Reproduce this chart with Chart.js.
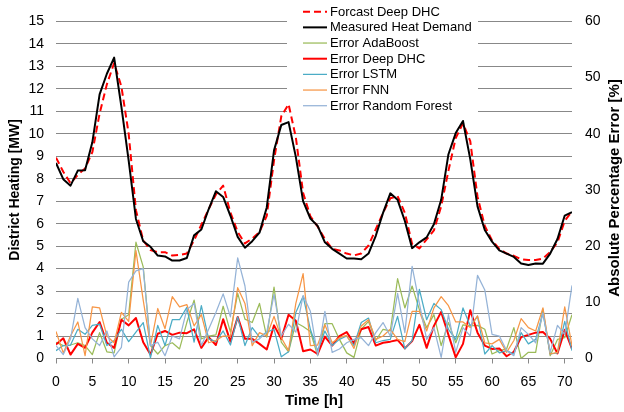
<!DOCTYPE html>
<html>
<head>
<meta charset="utf-8">
<script src="https://cdn.jsdelivr.net/npm/chart.js@4/dist/chart.umd.min.js"></script>
<style>
  html, body { margin: 0; padding: 0; background: #fff; }
  #wrap { width: 624px; height: 412px; }
</style>
</head>
<body>
<div id="wrap"><canvas id="heatChart"></canvas></div>
<script>
// ======================
// Dados
// ======================
const hours = [0,1,2,3,4,5,6,7,8,9,10,11,12,13,14,15,16,17,18,19,20,21,22,23,24,25,26,27,28,29,30,31,32,33,34,35,
  36,37,38,39,40,41,42,43,44,45,46,47,48,49,50,51,52,53,54,55,56,57,58,59,60,61,62,63,64,65,66,67,68,69,70,71];

// MW (eixo esquerdo)
const forecastDeepDhc = [8.94,8.31,7.80,8.17,8.46,9.18,10.90,12.20,13.15,12.10,10.00,6.60,5.25,4.83,4.73,4.73,4.58,4.61,4.67,5.26,
  5.95,6.64,7.30,7.69,6.50,5.63,5.12,5.34,5.63,6.35,8.82,10.78,11.32,9.84,7.37,6.33,5.87,5.32,4.88,4.81,
  4.67,4.59,4.67,5.03,5.75,6.48,7.13,7.23,6.48,5.10,4.90,5.30,5.70,6.77,8.36,9.81,10.46,9.67,7.20,5.90,
  5.25,4.88,4.67,4.57,4.42,4.38,4.38,4.45,4.74,5.17,6.12,6.55];
const measuredHeat = [8.70,7.98,7.69,8.36,8.38,9.62,11.75,12.67,13.39,11.20,8.80,6.21,5.22,4.97,4.58,4.54,4.36,4.36,4.47,5.48,
  5.74,6.64,7.44,7.19,6.35,5.41,4.93,5.22,5.60,6.72,9.26,10.39,10.52,8.97,7.00,6.23,5.90,5.17,4.88,4.67,
  4.45,4.45,4.42,4.67,5.46,6.48,7.35,7.06,6.12,4.91,5.17,5.39,5.97,7.06,9.09,10.03,10.57,8.87,6.77,5.72,
  5.20,4.81,4.67,4.52,4.23,4.16,4.23,4.22,4.67,5.32,6.36,6.51];

// % (eixo direito)
const errAdaBoost = [2.9,2.3,2.4,2.8,2.3,0.7,4.6,1.2,1.0,7.0,7.8,20.7,16.3,2.3,0.8,2.3,2.8,1.7,6.4,10.4,
  3.5,4.0,4.2,9.3,4.7,11.6,7.0,6.4,9.8,3.8,12.7,2.9,1.2,6.4,5.7,4.8,0.5,6.2,6.2,3.4,
  1.0,0.2,5.2,6.6,3.2,5.2,4.9,14.2,9.0,12.9,8.7,5.5,7.8,2.3,6.4,2.8,6.0,5.8,5.9,5.2,
  0.8,1.4,1.7,5.5,0.0,1.1,1.1,8.8,0.5,3.4,3.7,7.8];
const errDeepDhc = [2.5,3.6,0.7,2.6,1.9,4.6,6.5,2.8,1.9,6.9,5.9,7.2,2.9,0.7,4.4,4.9,4.2,4.6,4.5,5.2,
  1.9,3.8,2.4,7.0,3.0,7.4,3.5,3.5,2.6,1.6,5.9,3.5,7.8,6.7,1.3,1.6,0.8,3.9,2.3,4.0,
  4.7,2.7,5.2,5.6,2.3,2.8,3.0,3.3,1.8,3.1,6.0,1.9,5.8,8.3,4.2,0.2,2.6,8.6,4.6,2.3,
  1.7,1.8,0.4,1.2,3.8,4.2,4.6,4.7,3.5,0.9,5.1,1.7];
const errLstm = [1.4,2.3,2.4,5.2,4.3,5.9,6.1,2.3,3.2,5.2,3.0,4.7,6.4,0.1,5.9,2.3,6.9,6.9,9.1,2.9,
  9.4,3.5,3.0,4.9,2.4,7.4,2.3,5.5,3.8,4.7,5.2,0.3,1.2,8.2,11.1,5.2,1.4,4.9,2.3,3.4,
  4.0,2.3,6.4,7.2,2.8,3.2,3.4,7.5,1.7,3.2,12.3,6.9,9.8,8.7,5.2,3.4,9.0,5.8,7.5,0.8,
  2.3,1.0,1.4,0.8,4.6,2.6,3.4,8.1,0.8,1.0,6.6,1.4];
const errFnn = [4.8,1.0,4.0,6.5,0.5,9.2,9.0,4.0,2.8,8.2,6.6,19.2,10.4,2.3,8.9,5.3,11.0,9.2,9.6,5.8,
  7.8,2.8,3.2,4.0,4.0,12.6,9.8,2.3,4.6,4.0,7.5,3.7,1.4,9.8,15.1,2.3,2.4,6.0,2.8,3.7,
  4.1,1.8,5.8,6.9,3.4,4.0,5.2,3.4,3.0,8.4,8.4,4.9,9.0,11.0,9.4,6.5,6.5,5.5,7.6,2.8,
  2.6,3.4,1.1,3.2,7.1,5.5,4.9,9.0,0.8,1.1,9.2,2.3];
const errRandomForest = [2.3,0.7,3.5,10.7,5.5,3.5,2.3,4.9,0.3,2.0,13.6,15.6,16.0,2.3,2.9,0.5,4.0,3.5,8.7,9.8,
  2.3,5.2,8.2,11.5,7.4,17.9,12.9,2.9,3.5,4.7,11.4,4.0,6.1,4.7,11.2,8.4,0.5,8.4,1.1,1.7,
  2.8,3.4,3.7,2.3,4.6,6.4,4.0,11.6,4.6,16.4,9.8,3.4,5.5,0.2,7.8,1.1,5.5,4.0,14.8,12.2,
  4.3,4.0,1.4,0.5,5.5,4.3,2.8,8.1,1.1,5.9,4.3,13.0];

// limites dos eixos
const heatAxis = { min: 0, max: 15, step: 1 };
const errorAxis = { min: 0, max: 60, step: 10 };
const timeAxis = { min: 0, max: 71, step: 5 };

const FONT = '"Liberation Sans", Arial, sans-serif';
const GRID = '#888888';

const toPoints = vals => vals.map((v, i) => ({ x: hours[i], y: v }));

// ======================
// Legenda própria (dentro da área do gráfico)
// ======================
const legendBox = {
  id: 'legendBox',
  beforeDatasetsDraw(chart) {
    const ctx = chart.ctx;
    ctx.save();
    ctx.fillStyle = '#fff';
    ctx.fillRect(287, 0, 191, 114);
    ctx.restore();
  },
  afterDraw(chart) {
    const ctx = chart.ctx;
    ctx.save();
    ctx.font = '13px ' + FONT;
    ctx.textBaseline = 'middle';
    chart.data.datasets.forEach((ds, i) => {
      const y = 11.7 + i * 15.67;
      ctx.strokeStyle = ds.borderColor;
      ctx.lineWidth = ds.borderWidth > 1.5 ? 2 : 1.25;
      ctx.setLineDash(ds.borderDash || []);
      ctx.beginPath();
      ctx.moveTo(303, y);
      ctx.lineTo(327, y);
      ctx.stroke();
      ctx.setLineDash([]);
      ctx.fillStyle = '#000';
      ctx.fillText(ds.label, 330, y + 0.5);
    });
    // título do eixo direito (lido de baixo para cima)
    ctx.font = 'bold 15px ' + FONT;
    ctx.textAlign = 'center';
    ctx.translate(615, 188);
    ctx.rotate(-Math.PI / 2);
    ctx.fillText('Absolute Percentage Error [%]', 0, 0);
    ctx.restore();
  }
};

// ======================
// Gráfico
// ======================
const ctx = document.getElementById('heatChart').getContext('2d');
const heatChart = new Chart(ctx, {
  type: 'line',
  data: {
    datasets: [
      { label: 'Forcast Deep DHC', data: toPoints(forecastDeepDhc), yAxisID: 'y',
        borderColor: '#ff0000', borderWidth: 2, borderDash: [7, 4], order: 7 },
      { label: 'Measured Heat Demand', data: toPoints(measuredHeat), yAxisID: 'y',
        borderColor: '#000000', borderWidth: 2, order: 6 },
      { label: 'Error AdaBoost', data: toPoints(errAdaBoost), yAxisID: 'y1',
        borderColor: '#9bbb59', borderWidth: 1.25, order: 5 },
      { label: 'Error Deep DHC', data: toPoints(errDeepDhc), yAxisID: 'y1',
        borderColor: '#ff0000', borderWidth: 2, order: 4 },
      { label: 'Error LSTM', data: toPoints(errLstm), yAxisID: 'y1',
        borderColor: '#4bacc6', borderWidth: 1.25, order: 3 },
      { label: 'Error FNN', data: toPoints(errFnn), yAxisID: 'y1',
        borderColor: '#f79646', borderWidth: 1.25, order: 2 },
      { label: 'Error Random Forest', data: toPoints(errRandomForest), yAxisID: 'y1',
        borderColor: '#95b3d7', borderWidth: 1.25, order: 1 }
    ]
  },
  options: {
    responsive: true,
    maintainAspectRatio: false,
    animation: false,
    layout: { padding: { top: 15, left: 0, right: 0, bottom: 0 } },
    elements: {
      point: { radius: 0, hoverRadius: 0 },
      line: { tension: 0, fill: false, borderJoinStyle: 'round' }
    },
    plugins: {
      legend: { display: false },
      tooltip: { enabled: false }
    },
    scales: {
      x: {
        type: 'linear',
        min: timeAxis.min,
        max: timeAxis.max,
        afterFit: s => { s.height = 53.5; },
        ticks: { stepSize: timeAxis.step, includeBounds: false, padding: 10, color: '#000',
          font: { family: FONT, size: 14 } },
        grid: { drawOnChartArea: false, drawTicks: true, tickLength: 5, color: GRID },
        border: { display: true, color: GRID },
        title: { display: true, text: 'Time [h]', color: '#000',
          font: { family: FONT, size: 15, weight: 'bold' }, padding: { top: 0, bottom: 2 } }
      },
      y: {
        position: 'left',
        min: heatAxis.min,
        max: heatAxis.max,
        afterFit: s => { s.width = 56; },
        ticks: { stepSize: heatAxis.step, padding: 12, color: '#000',
          font: { family: FONT, size: 14 } },
        grid: { color: GRID, lineWidth: 1, drawTicks: false },
        border: { display: false },
        title: { display: true, text: 'District Heating [MW]', color: '#000',
          font: { family: FONT, size: 14, weight: 'bold' }, padding: { top: 7, bottom: 0 } }
      },
      y1: {
        position: 'right',
        min: errorAxis.min,
        max: errorAxis.max,
        afterFit: s => { s.width = 52; },
        ticks: { stepSize: errorAxis.step, padding: 13, color: '#000',
          font: { family: FONT, size: 14 } },
        grid: { drawOnChartArea: false, drawTicks: false },
        border: { display: false }
      }
    }
  },
  plugins: [legendBox]
});
</script>
</body>
</html>
